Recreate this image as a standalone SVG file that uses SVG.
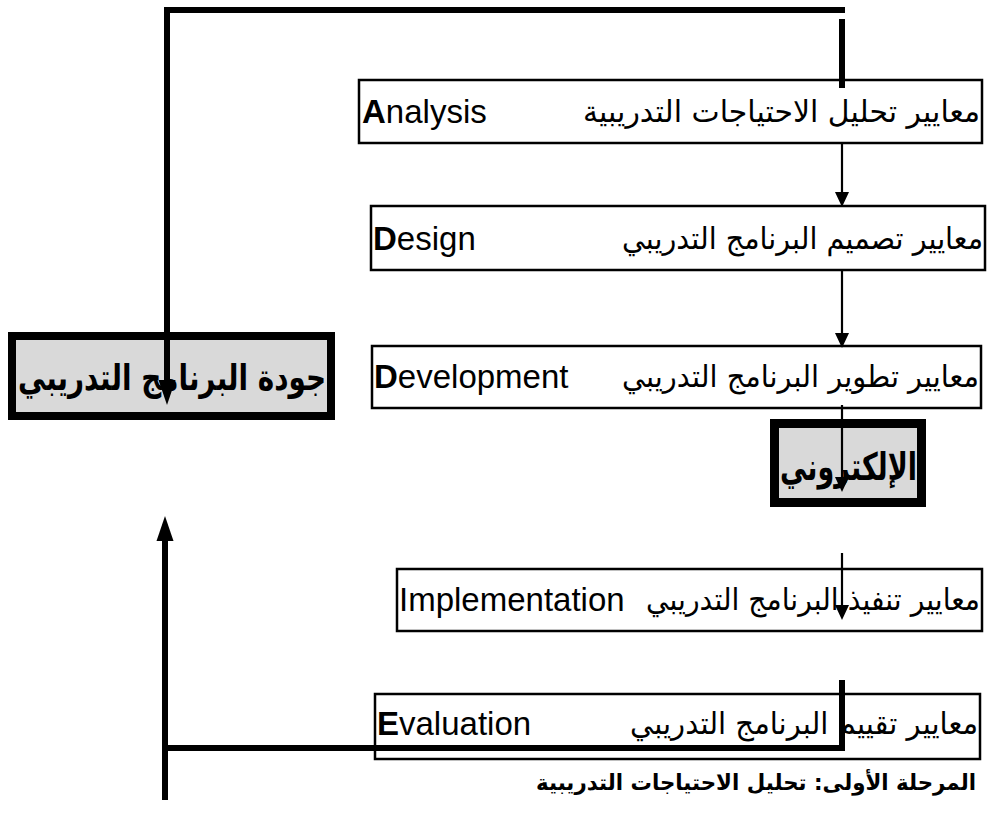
<svg xmlns="http://www.w3.org/2000/svg" width="993" height="835" viewBox="0 0 993 835">
<style>
.box{fill:#fff;stroke:#000;stroke-width:2.5}
.hbox{fill:#d9d9d9;stroke:#000}
.lat{font-family:"Liberation Sans",Arial,sans-serif;font-size:33px;fill:#000}
.ar{font-family:"DejaVu Sans","Liberation Sans",sans-serif;font-size:30px;fill:#000}
.arb{font-family:"DejaVu Sans","Liberation Sans",sans-serif;font-weight:bold;fill:#000}
.thin{stroke:#000;stroke-width:2.2;fill:none}
.thick{stroke:#000;stroke-width:6;fill:none}
</style>
<defs>
<marker id="ah" markerUnits="userSpaceOnUse" markerWidth="16" markerHeight="14" refX="0" refY="7" orient="auto" overflow="visible">
<path d="M0,0 L15,7 L0,14 z" fill="#000"/>
</marker>
<marker id="ahb" markerUnits="userSpaceOnUse" markerWidth="26" markerHeight="17" refX="0" refY="8.5" orient="auto" overflow="visible">
<path d="M0,0 L25,8.5 L0,17 z" fill="#000"/>
</marker>
</defs>

<g id="node-analysis">
<rect class="box" x="359" y="80" width="623" height="63"/>
<text class="lat" x="362" y="123"><tspan font-weight="bold">A</tspan>nalysis</text>
<text class="ar" x="980" y="122" text-anchor="end" textLength="397" lengthAdjust="spacingAndGlyphs">معايير تحليل الاحتياجات التدريبية</text>
</g>

<g id="node-design">
<rect class="box" x="371" y="206" width="614" height="64"/>
<text class="lat" x="373" y="250"><tspan font-weight="bold">D</tspan>esign</text>
<text class="ar" x="983" y="249" text-anchor="end" textLength="361" lengthAdjust="spacingAndGlyphs">معايير تصميم البرنامج التدريبي</text>
</g>

<g id="node-development">
<rect class="box" x="372" y="346" width="609" height="62"/>
<text class="lat" x="374" y="388"><tspan font-weight="bold">D</tspan>evelopment</text>
<text class="ar" x="979" y="387" text-anchor="end" textLength="357" lengthAdjust="spacingAndGlyphs">معايير تطوير البرنامج التدريبي</text>
</g>

<g id="node-quality">
<rect class="hbox" x="12" y="336" width="319" height="80" stroke-width="8"/>
<text class="arb" x="326" y="390" font-size="36" text-anchor="end" textLength="308" lengthAdjust="spacingAndGlyphs">جودة البرنامج التدريبي</text>
</g>

<g id="node-electronic">
<rect class="hbox" x="774.5" y="423.5" width="147" height="79" stroke-width="9"/>
<text class="arb" x="917" y="480" font-size="38" text-anchor="end" textLength="137" lengthAdjust="spacingAndGlyphs">الإلكتروني</text>
</g>

<g id="node-implementation">
<rect class="box" x="397" y="569" width="585" height="62"/>
<text class="lat" x="399" y="611">Implementation</text>
<text class="ar" x="980" y="610" text-anchor="end" textLength="334" lengthAdjust="spacingAndGlyphs">معايير تنفيذ البرنامج التدريبي</text>
</g>

<g id="node-evaluation">
<rect class="box" x="375" y="694" width="605" height="65"/>
<text class="lat" x="377" y="735"><tspan font-weight="bold">E</tspan>valuation</text>
<text class="ar" x="978" y="734" text-anchor="end" textLength="348" lengthAdjust="spacingAndGlyphs">معايير تقييم البرنامج التدريبي</text>
</g>

<g id="caption">
<text class="arb" x="976" y="790" font-size="22" text-anchor="end" textLength="440" lengthAdjust="spacingAndGlyphs">المرحلة الأولى: تحليل الاحتياجات التدريبية</text>
</g>

<g id="connectors">
<polyline class="thick" points="845,10 167,10 167,380" marker-end="url(#ahb)"/>
<line class="thick" x1="842" y1="19" x2="842" y2="88"/>
<line class="thin" x1="842" y1="143" x2="842" y2="192" marker-end="url(#ah)"/>
<line class="thin" x1="842" y1="270" x2="842" y2="333" marker-end="url(#ah)"/>
<line class="thin" x1="842" y1="405" x2="842" y2="477" marker-end="url(#ah)"/>
<line class="thin" x1="842" y1="553" x2="842" y2="605" marker-end="url(#ah)"/>
<polyline class="thick" points="842,680 842,748 162,748"/>
<line class="thick" x1="165" y1="800" x2="165" y2="541" marker-end="url(#ahb)"/>
</g>
</svg>
